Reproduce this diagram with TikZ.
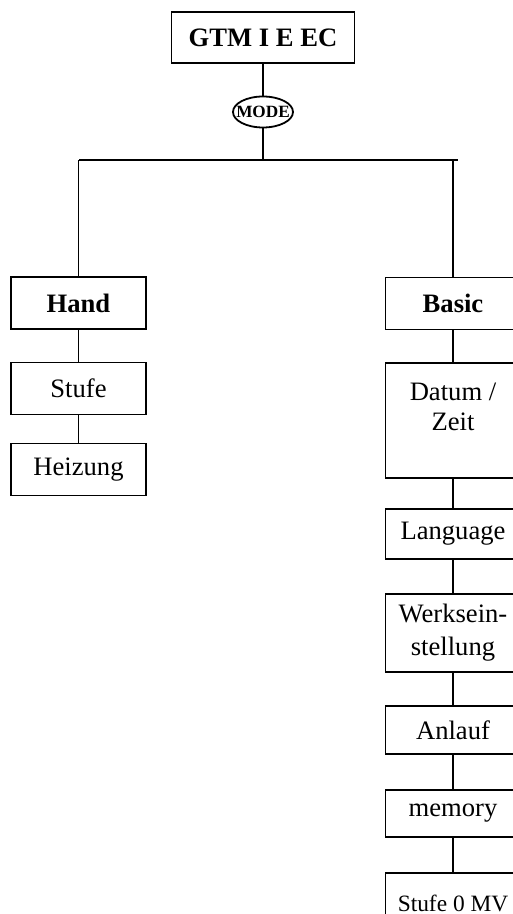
\documentclass[tikz,border=0pt]{standalone}
\usepackage{fontspec}
\setmainfont{Liberation Serif}
\usetikzlibrary{shapes.geometric}
\newcommand{\nf}{\fontsize{13.3}{15}\selectfont}

\begin{document}
\begin{tikzpicture}[x=0.5pt,y=-0.5pt,line width=0.9pt,
  menubox/.style={draw,inner sep=0pt,minimum width=67.5pt,minimum height=26pt,align=center,font=\nf}]
     \useasboundingbox (0,0) rectangle (513,914);
     \clip (0,0) rectangle (513,914);
     % top of the menu
     \node[menubox,minimum width=91.5pt,minimum height=25.5pt,font=\nf\bfseries] (gtm) at (263,37.5) {GTM I E EC};
     \node[draw,ellipse,inner xsep=-7pt,inner ysep=0pt,minimum width=30pt,minimum height=15.5pt,font=\fontsize{8.6}{10}\selectfont\bfseries] (mode) at (263,112) {MODE};
     \coordinate (barl) at (79,160);
     \coordinate (barr) at (458,160);
     % left branch
     \node[menubox,font=\nf\bfseries] (hand) at (78.5,303) {Hand};
     \node[menubox] (stufe) at (78.5,388.5) {Stufe};
     \node[menubox] (heizung) at (78.5,469.5) {Heizung};
     % right branch
     \node[menubox,font=\nf\bfseries] (basic) at (453,303.5) {Basic};
     \node[menubox,minimum height=57.5pt] (datum) at (453,420.5) {Datum /\\Zeit\\[-1.5pt]\mbox{}};
     \node[menubox,minimum height=25pt] (language) at (453,534) {Language};
     \node[menubox,minimum height=39pt,font=\fontsize{13.3}{16.5}\selectfont] (werk) at (453,633) {Werksein-\\stellung};
     \node[menubox,minimum height=24pt] (anlauf) at (453,730) {Anlauf};
     \node[menubox,minimum height=23.5pt] (memory) at (453,813.5) {memory};
     \node[menubox,minimum height=30pt,font=\fontsize{11.7}{14}\selectfont] (stufenull) at (453,903) {Stufe 0 MV};
     % connectors
     \draw (gtm) -- (mode);
     \draw (mode) -- (mode |- barl);
     \draw (barl) -- (barr);
     \draw (hand) -- (hand |- barl);
     \draw (basic) -- (basic |- barl);
     \draw (hand) -- (stufe);
     \draw (stufe) -- (heizung);
     \draw (basic) -- (datum);
     \draw (datum) -- (language);
     \draw (language) -- (werk);
     \draw (werk) -- (anlauf);
     \draw (anlauf) -- (memory);
     \draw (memory) -- (stufenull);
\end{tikzpicture}
\end{document}
